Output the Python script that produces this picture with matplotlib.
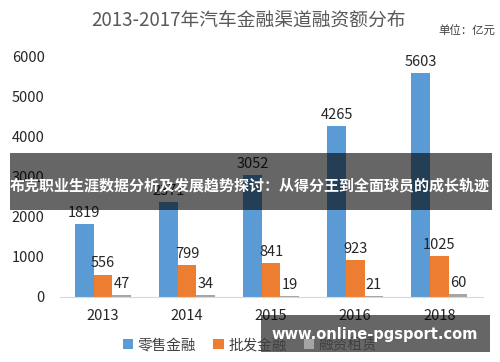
import numpy as np
import matplotlib.pyplot as plt
from matplotlib.patches import Patch, Rectangle

plt.rcParams['font.family'] = ['Noto Sans CJK SC', 'DejaVu Sans']

years = ["2013", "2014", "2015", "2016", "2018"]
retail = [1819, 2371, 3052, 4265, 5603]
wholesale = [556, 799, 841, 923, 1025]
leasing = [47, 34, 19, 21, 60]
series_names = ["零售金融", "批发金融", "融资租赁"]
colors = ["#5B9BD5", "#ED7D31", "#A5A5A5"]
yticks = [0, 1000, 2000, 3000, 4000, 5000, 6000]

title = "2013-2017年汽车金融渠道融资额分布"
unit = "单位：亿元"
banner = "布克职业生涯数据分析及发展趋势探讨：从得分王到全面球员的成长轨迹"
watermark = "www.online-pgsport.com"

fig = plt.figure(figsize=(5, 3.62), dpi=100)
ax = fig.add_axes([0.12, 0.18, 0.846, 0.663])

x = np.arange(len(years))
w = 0.222
for i, (vals, c) in enumerate(zip([retail, wholesale, leasing], colors)):
    pos = x + (i - 1) * w
    ax.bar(pos, vals, width=w, color=c)
    for px, v in zip(pos, vals):
        ax.annotate(str(v), (px, v), xytext=(0, 3), textcoords="offset points",
                    ha="center", va="bottom", fontsize=10.5, color="#262626")

ax.set_xlim(-0.51, 4.52)
ax.set_ylim(0, 6000)
ax.set_xticks(x)
ax.set_xticklabels(years, fontsize=10.5, color="#262626")
ax.set_yticks(yticks)
ax.set_yticklabels([str(t) for t in yticks], fontsize=10.5, color="#262626")
ax.tick_params(axis="both", length=0)
ax.tick_params(axis="y", pad=11)
ax.tick_params(axis="x", pad=9)
for s in ["top", "right", "left"]:
    ax.spines[s].set_visible(False)
ax.spines["bottom"].set_color("#D9D9D9")

fig.text(0.497, 1 - 20 / 362, title, ha="center", va="center", fontsize=13.5, color="#595959")
fig.text(0.99, 1 - 31 / 362, unit, ha="right", va="center", fontsize=8.2, color="#404040")

handles = [Patch(facecolor=c) for c in colors]
fig.legend(handles, series_names, loc="center", bbox_to_anchor=(0.5, 0.047), ncol=3,
           frameon=False, fontsize=10.5, handlelength=0.7, handleheight=0.7,
           handletextpad=0.3, columnspacing=1.2, labelcolor="#404040")

# overlay banner and watermark
fig.patches.append(Rectangle((0.02, 1 - 210 / 362), 0.964, 57 / 362, transform=fig.transFigure,
                             facecolor="black", alpha=0.6, zorder=5))
fig.text(0.5, 1 - 185 / 362, banner, ha="center", va="center", fontsize=10.8,
         fontweight="bold", color="white", zorder=6)
fig.patches.append(Rectangle((0.522, 1 - 352 / 362), 0.458, 37 / 362, transform=fig.transFigure,
                             facecolor="black", alpha=0.6, zorder=5))
fig.text(0.75, 1 - 335 / 362, watermark, ha="center", va="center", fontsize=10.5,
         fontweight="bold", color="white", family="DejaVu Sans", zorder=6)

fig.savefig("out.png", dpi=100)
